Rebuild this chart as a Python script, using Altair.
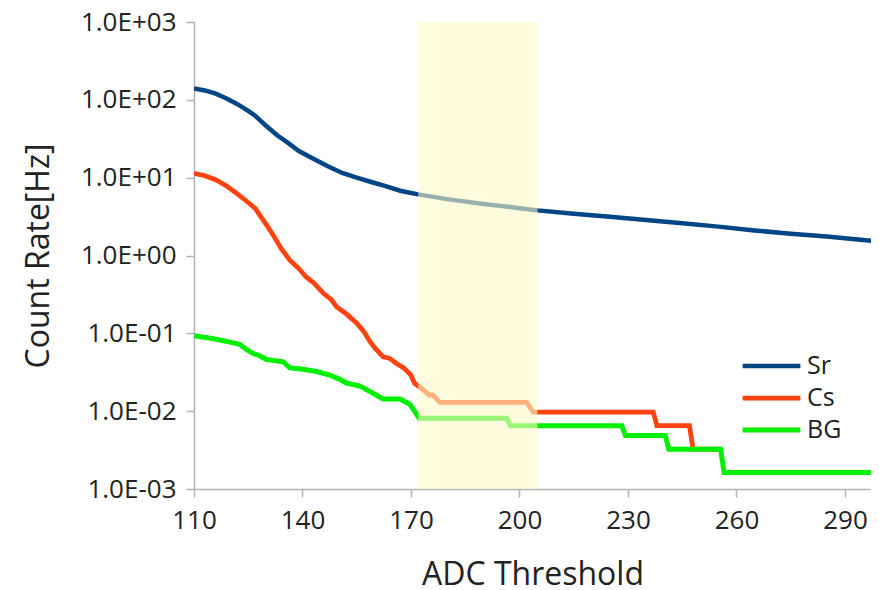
import altair as alt
import pandas as pd

U = 0.001625  # one count unit

sr_x = [110, 113, 116, 119, 122, 125, 127, 128, 130, 133, 136, 139, 143, 147, 151, 155, 159, 163, 167, 172,
        180, 190, 200, 205, 215, 225, 235, 245, 255, 265, 275, 285, 295, 298]
sr_y = [140, 132, 120, 104, 88, 72, 62, 56, 46, 35, 28, 22, 17.5, 14, 11.5, 10, 8.8, 7.8, 6.8, 6.1,
        5.3, 4.6, 4.05, 3.8, 3.45, 3.15, 2.85, 2.6, 2.35, 2.1, 1.9, 1.75, 1.58, 1.53]

cs_x = [110, 113, 116, 119, 122, 125, 127, 128, 130, 132, 134, 136.5, 139, 141, 143, 145.7, 148, 149.4, 152,
        155, 157, 158.7, 160, 162.3, 164, 166, 168, 170, 171, 173, 175, 176, 178, 202, 203.8, 237, 238,
        247, 248, 255.5]
cs_y = [11.4, 10.6, 9.4, 7.8, 6.2, 4.8, 4.0, 3.4, 2.5, 1.8, 1.25, 0.87, 0.68, 0.53, 0.45, 0.33, 0.27, 0.22, 0.18,
        0.135, 0.105, 0.078, 0.065, 0.05, 0.048, 0.041, 0.036, 0.029, 14 * U, 12 * U, 10 * U, 10 * U, 8 * U, 8 * U,
        6 * U, 6 * U, 4 * U, 4 * U, 2 * U, 2 * U]

bg_x = [110, 115, 120, 122.7, 124.5, 126.4, 128, 130.1, 134.7, 136.5, 139.2, 143.9, 147.6, 150, 152.2, 155.9,
        158.7, 160.5, 162.3, 167, 169.7, 172.3, 196.5, 197.5, 228.3, 229.3, 240.3, 241.3, 255.6, 256.6, 298]
bg_y = [0.093, 0.086, 0.077, 0.072, 0.062, 0.055, 0.052, 0.046, 0.043, 0.036, 0.035, 0.0323, 0.029, 0.026, 0.023,
        0.021, 0.0178, 0.016, 0.0143, 0.0143, 0.0123, 5 * U, 5 * U, 4 * U, 4 * U, 3 * U, 3 * U, 2 * U, 2 * U,
        1 * U, 1 * U]

series = ["Sr", "Cs", "BG"]
colors = ["#004586", "#FF420E", "#00F000"]
widths = [4.5, 5, 3]
band = [172, 205]
x_ticks = [110, 140, 170, 200, 230, 260, 290]
y_ticks = [0.001, 0.01, 0.1, 1, 10, 100, 1000]

rows = []
for name, xs, ys in [("Sr", sr_x, sr_y), ("Cs", cs_x, cs_y), ("BG", bg_x, bg_y)]:
    for i, (a, b) in enumerate(zip(xs, ys)):
        rows.append({"series": name, "x": a, "y": b, "order": i})
df = pd.DataFrame(rows)

FONT = "Open Sans"

leg = alt.Legend(orient="none", legendX=558.5, legendY=325, title=None, symbolType="M-1.75,0H1.75",
                 symbolSize=1089, labelFontSize=25, labelFont=FONT, labelColor="#222222",
                 rowPadding=0, padding=0, labelOffset=16.5)

lines = alt.Chart(df).mark_line(clip=True).encode(
    x=alt.X("x:Q", scale=alt.Scale(domain=[110, 297.2], nice=False, zero=False),
            axis=alt.Axis(values=x_ticks, title="ADC Threshold", grid=False, tickSize=8,
                          labelPadding=10, titlePadding=26, labelFlush=False)),
    y=alt.Y("y:Q", scale=alt.Scale(type="log", domain=[0.001, 1000], nice=False),
            axis=alt.Axis(values=y_ticks, title="Count Rate[Hz]", grid=False, tickSize=8,
                          labelPadding=10, titlePadding=25, labelFlush=False, labelOverlap=False,
                          labelExpr="'1.0E' + (round(log(datum.value)/LN10) >= 0 ? '+' : '-') + '0' + abs(round(log(datum.value)/LN10))")),
    color=alt.Color("series:N", scale=alt.Scale(domain=series, range=colors), legend=leg),
    strokeWidth=alt.StrokeWidth("series:N", scale=alt.Scale(domain=series, range=widths), legend=leg),
    order="order:Q",
    detail="series:N",
)

band_df = pd.DataFrame({"x1": [band[0]], "x2": [band[1]]})
rect = alt.Chart(band_df).mark_rect(color="#FFFAC6", opacity=0.6).encode(
    x="x1:Q", x2="x2:Q",
)

chart = alt.layer(lines, rect).properties(
    width=677, height=467,
    padding={"left": 186, "top": 14, "right": 0, "bottom": 100},
    autosize=alt.AutoSizeParams(type="none"),
).configure_view(stroke=None).configure_axis(
    domainColor="#b3b3b3", tickColor="#b3b3b3", domainWidth=1.5, tickWidth=1.5,
    labelFont=FONT, titleFont=FONT, labelFontSize=26, titleFontSize=32,
    labelColor="#222222", titleColor="#222222", titleFontWeight="normal",
)

chart.save("out.html", embed_options={"renderer": "svg", "actions": False})
